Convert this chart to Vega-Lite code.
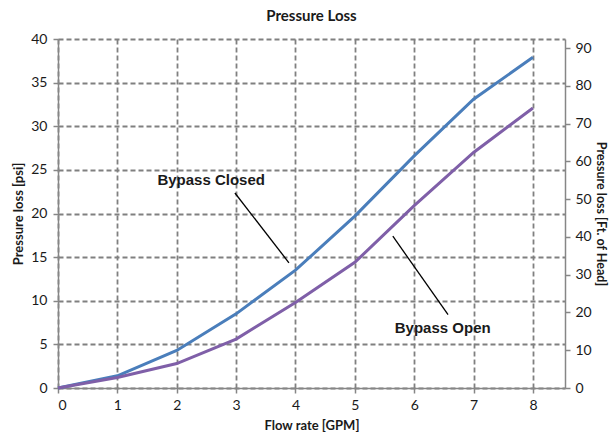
{
  "$schema": "https://vega.github.io/schema/vega-lite/v6.json",
  "width": 507,
  "height": 349,
  "autosize": {"type": "none"},
  "padding": {"left": 58, "top": 39, "right": 46, "bottom": 51},
  "background": "white",
  "config": {
    "view": {"stroke": null},
    "font": "Lato",
    "axis": {
      "labelFont": "Lato",
      "labelFontSize": 14,
      "labelColor": "#1a1a1a",
      "titleFont": "Lato",
      "titleFontSize": 13,
      "titleFontWeight": "bold",
      "titleColor": "#1a1a1a",
      "domainColor": "#868686",
      "domainWidth": 1.5,
      "tickColor": "#868686",
      "tickWidth": 1.5,
      "tickSize": 5,
      "gridColor": "#808080",
      "gridDash": [5, 3],
      "gridWidth": 1.8
    }
  },
  "title": {
    "text": "Pressure Loss",
    "font": "Lato",
    "fontSize": 15,
    "fontWeight": "bold",
    "color": "#1a1a1a",
    "anchor": "middle",
    "frame": "group",
    "offset": 8
  },
  "layer": [
    {
      "data": {
        "values": [
          {"flow": 0, "psi": 0, "series": "Bypass Closed"},
          {"flow": 1, "psi": 1.4, "series": "Bypass Closed"},
          {"flow": 2, "psi": 4.3, "series": "Bypass Closed"},
          {"flow": 3, "psi": 8.5, "series": "Bypass Closed"},
          {"flow": 4, "psi": 13.5, "series": "Bypass Closed"},
          {"flow": 5, "psi": 19.7, "series": "Bypass Closed"},
          {"flow": 6, "psi": 26.6, "series": "Bypass Closed"},
          {"flow": 7, "psi": 33.1, "series": "Bypass Closed"},
          {"flow": 8, "psi": 37.9, "series": "Bypass Closed"},
          {"flow": 0, "psi": 0, "series": "Bypass Open"},
          {"flow": 1, "psi": 1.2, "series": "Bypass Open"},
          {"flow": 2, "psi": 2.8, "series": "Bypass Open"},
          {"flow": 3, "psi": 5.6, "series": "Bypass Open"},
          {"flow": 4, "psi": 9.8, "series": "Bypass Open"},
          {"flow": 5, "psi": 14.4, "series": "Bypass Open"},
          {"flow": 6, "psi": 20.9, "series": "Bypass Open"},
          {"flow": 7, "psi": 27.0, "series": "Bypass Open"},
          {"flow": 8, "psi": 32.1, "series": "Bypass Open"}
        ]
      },
      "layer": [
        {
          "mark": {"type": "line", "strokeWidth": 3},
          "encoding": {
            "x": {
              "field": "flow",
              "type": "quantitative",
              "scale": {"domain": [0, 8.54], "nice": false},
              "axis": {
                "values": [0, 1, 2, 3, 4, 5, 6, 7, 8],
                "format": "d",
                "title": "Flow rate [GPM]",
                "labelPadding": 5,
                "titlePadding": 7
              }
            },
            "y": {
              "field": "psi",
              "type": "quantitative",
              "scale": {"domain": [0, 40], "nice": false},
              "axis": {
                "values": [0, 5, 10, 15, 20, 25, 30, 35, 40],
                "title": "Pressure loss [psi]",
                "orient": "left",
                "labelPadding": 6,
                "titlePadding": 5
              }
            },
            "color": {
              "field": "series",
              "type": "nominal",
              "scale": {"domain": ["Bypass Closed", "Bypass Open"], "range": ["#4A7EBB", "#7F5FA8"]},
              "legend": null
            }
          }
        },
        {
          "data": {
            "values": [
              {"label": "Bypass Closed", "tx": 2.58, "ty": 23.8, "x1": 2.98, "y1": 22.35, "x2": 3.89, "y2": 14.35},
              {"label": "Bypass Open", "tx": 6.48, "ty": 6.85, "x1": 5.64, "y1": 17.4, "x2": 6.57, "y2": 8.4}
            ]
          },
          "layer": [
            {
              "mark": {"type": "rule", "color": "#000000", "strokeWidth": 1.3},
              "encoding": {
                "x": {"field": "x1", "type": "quantitative"},
                "y": {"field": "y1", "type": "quantitative"},
                "x2": {"field": "x2"},
                "y2": {"field": "y2"}
              }
            },
            {
              "mark": {"type": "text", "font": "Liberation Sans", "fontSize": 15, "fontWeight": "bold", "color": "#1a1a1a", "align": "center", "baseline": "middle"},
              "encoding": {
                "x": {"field": "tx", "type": "quantitative"},
                "y": {"field": "ty", "type": "quantitative"},
                "text": {"field": "label"}
              }
            }
          ]
        }
      ]
    },
    {
      "data": {"values": [{"ft": 0}, {"ft": 92.4}]},
      "mark": {"type": "point", "opacity": 0},
      "encoding": {
        "y": {
          "field": "ft",
          "type": "quantitative",
          "scale": {"domain": [0, 92.4], "nice": false},
          "axis": {
            "orient": "right",
            "values": [0, 10, 20, 30, 40, 50, 60, 70, 80, 90],
            "title": "Pressure loss [Ft. of Head]",
            "titleFontSize": 12.5,
            "grid": false,
            "labelPadding": 5,
            "titlePadding": 2
          }
        }
      }
    }
  ],
  "resolve": {"scale": {"y": "independent"}}
}
